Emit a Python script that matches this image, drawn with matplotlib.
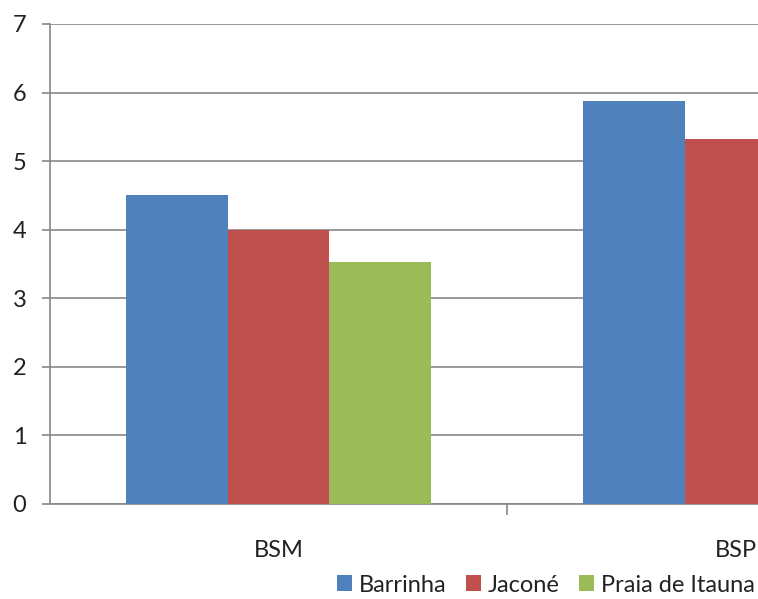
import numpy as np
import matplotlib
matplotlib.use("Agg")
import matplotlib.pyplot as plt

plt.rcParams['font.family'] = ['Lato', 'DejaVu Sans']

categories = ["BSM", "BSP"]
series = ["Barrinha", "Jaconé", "Praia de Itauna"]
barrinha = [4.5, 5.88]
jacone = [4.0, 5.32]
praia = [3.53, np.nan]  # BSP value falls outside the cropped picture
colors = ["#4F81BD", "#C0504D", "#9BBB59"]
yticks = [0, 1, 2, 3, 4, 5, 6, 7]

W, H = 758, 599
fig = plt.figure(figsize=(W / 100, H / 100), dpi=100)
# plot area runs past the right edge, the reference is cropped there
ax = fig.add_axes([50 / W, (H - 504) / H, 914 / W, 480 / H])

x = np.arange(len(categories))
bw = 1 / 1.5 / 3
for i, (vals, name) in enumerate(zip([barrinha, jacone, praia], series)):
    ax.bar(x + (i - 1) * bw, vals, bw, color=colors[i], label=name,
           zorder=3, linewidth=0)

grey = "#878787"
ax.set_ylim(0, 7)
ax.set_xlim(-0.5, 1.5)
ax.set_yticks(yticks)
ax.yaxis.grid(True, color=grey, linewidth=1.2, zorder=0)
for s in ["top", "right"]:
    ax.spines[s].set_visible(False)
for s in ["left", "bottom"]:
    ax.spines[s].set_color(grey)
    ax.spines[s].set_linewidth(1.2)

ax.set_xticks(x)
ax.set_xticklabels(categories)
ax.set_xticks([0.5, 1.5], minor=True)
ax.tick_params(axis="x", which="major", length=0, pad=26, labelsize=17, colors="#222222")
ax.tick_params(axis="x", which="minor", length=8, width=1.2, color=grey)
ax.tick_params(axis="y", length=6, width=1.2, color=grey, pad=11, labelsize=17, labelcolor="#222222")

fig.legend(loc="center", bbox_to_anchor=(546 / W, 1 - 585 / H), ncol=3, frameon=False,
           fontsize=17, handlelength=0.65, handleheight=0.65, handletextpad=0.3,
           columnspacing=0.8, labelcolor="#222222")

fig.savefig("out.png", dpi=100)
